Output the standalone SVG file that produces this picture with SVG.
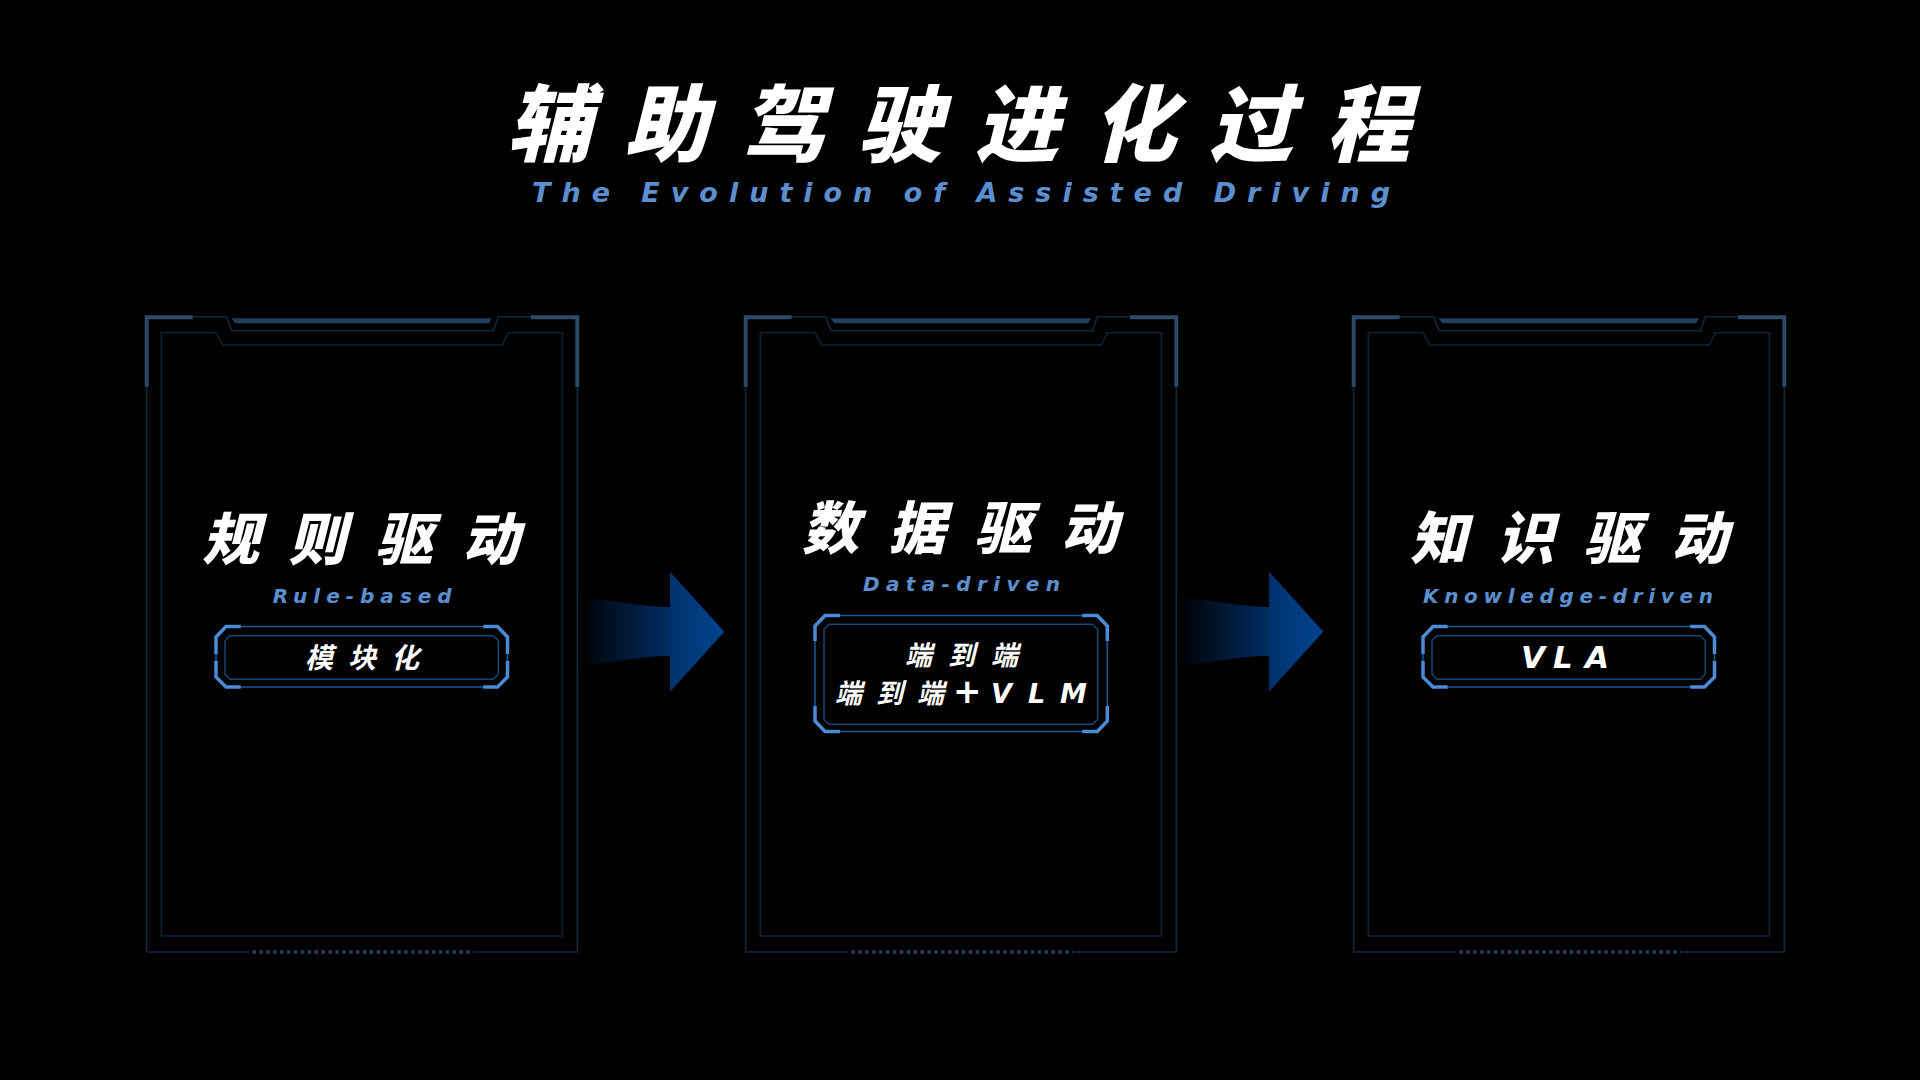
<svg xmlns="http://www.w3.org/2000/svg" xmlns:xlink="http://www.w3.org/1999/xlink" width="1920" height="1080" viewBox="0 0 1920 1080">
<style>
.cjk{font-family:"Noto Sans CJK SC","Noto Sans",sans-serif;font-weight:900;font-style:italic;fill:#ffffff}
.box{font-family:"DejaVu Sans","Noto Sans CJK SC",sans-serif;font-weight:700;font-style:italic;fill:#ffffff}
.en{font-family:"DejaVu Sans","Liberation Sans",sans-serif;font-weight:700;font-style:italic;fill:#5b8fd0}
.thin{fill:none;stroke:#0e283e;stroke-width:1.6}
.inner{fill:none;stroke:#0b2235;stroke-width:1.6}
.thick{fill:none;stroke:#2b4969;stroke-width:4}
.bar{fill:#233f5e}
.dots{fill:none;stroke:#2a3f58;stroke-width:3.4;stroke-dasharray:3.4 3.5}
.boxthin{fill:none;stroke:#1b5a98;stroke-width:1.6}
.boxinner{fill:none;stroke:#164473;stroke-width:1.5}
.boxbright{fill:none;stroke:#4b8bd6;stroke-width:3.5}
</style>
<defs>
<linearGradient id="arrowGrad" gradientUnits="userSpaceOnUse" x1="578" y1="0" x2="724" y2="0">
<stop offset="0" stop-color="#000000"/>
<stop offset="0.62" stop-color="#002c62"/>
<stop offset="0.64" stop-color="#00336e"/>
<stop offset="1" stop-color="#00438d"/>
</linearGradient>
<g id="frame">
<path class="thin" d="M146.7,386 V952 H249.5 M474.5,952 H577.3 V386"/>
<path class="thin" d="M192,316.7 H226.7 L231.7,330.7 H493.3 L498.3,316.7 H531"/>
<path class="inner" d="M161.3,936 V332.7 H216 L222.7,345 H502.3 L508.3,332.7 H562.3 V936 Z"/>
<path class="thick" d="M192.7,317.3 H146.7 V386.7 M531,317.3 H577.3 V386.7"/>
<polygon class="bar" points="231.7,318.3 491.7,318.3 489.3,323.3 235,323.3"/>
<path class="dots" d="M252.5,952 H474"/>
</g>
<g id="boxSmall">
<path class="boxthin" d="M226,626.5 H497.5 L507.5,637 V677 L497.5,687 H226 L216,677 V637 Z"/>
<path class="boxinner" d="M230,635.7 H493.3 L498.3,640.7 V674.3 L493.3,679.3 H230 L225,674.3 V640.7 Z"/>
<path class="boxbright" d="M240.7,626.5 H226 L216,637 V654 M216,661 V677 L226,687 H240.7 M483.3,626.5 H497.5 L507.5,637 V654 M507.5,661 V677 L497.5,687 H483.3"/>
</g>
<path id="arrow" d="M578,598 C622,600 640,607 670,607 L670,571.7 L724.3,631.7 L670,691.7 L670,656 C640,656 622,662 578,666 Z"/>
</defs>
<rect width="1920" height="1080" fill="#000000"/>
<g id="title">
<text class="cjk" font-size="84" x="507 624 741 858 975 1092 1209 1326" y="155">辅助驾驶进化过程</text>
<text class="en" font-size="27" x="532" y="201.7" textLength="858" lengthAdjust="spacing">The Evolution of Assisted Driving</text>
</g>
<g id="connectors">
<use xlink:href="#arrow" href="#arrow" fill="url(#arrowGrad)"/>
<g transform="translate(599,0)"><use xlink:href="#arrow" href="#arrow" fill="url(#arrowGrad)"/></g>
</g>
<g id="card-rule">
<use xlink:href="#frame" href="#frame"/>
<text class="cjk" font-size="57" x="202 288.7 375.4 462.1" y="560">规则驱动</text>
<text class="en" font-size="20" x="272.7" y="603.3" textLength="179" lengthAdjust="spacing">Rule-based</text>
<use xlink:href="#boxSmall" href="#boxSmall"/>
<text class="box" font-size="28" x="305 348 391" y="668">模块化</text>
</g>
<g id="card-data">
<use xlink:href="#frame" href="#frame" transform="translate(599,0)"/>
<text class="cjk" font-size="57" x="802 888.2 974.4 1060.6" y="549">数据驱动</text>
<text class="en" font-size="20" x="863" y="591" textLength="197" lengthAdjust="spacing">Data-driven</text>
<path class="boxthin" d="M825,615.5 H1097.3 L1107.3,626 V721 L1097.3,731.5 H825 L815,721 V626 Z"/>
<path class="boxinner" d="M829,624.3 H1092.7 L1097.7,629.3 V719.3 L1092.7,724.3 H829 L824,719.3 V629.3 Z"/>
<path class="boxbright" d="M840,615.5 H825 L815,626 V641 M815,706 V721 L825,731.5 H840 M1082.3,615.5 H1097.3 L1107.3,626 V641 M1107.3,706 V721 L1097.3,731.5 H1082.3"/>
<text class="box" font-size="27" x="905 948 991" y="665">端到端</text>
<text class="box" font-size="27" x="835 876 917 953 991 1028 1060" y="703">端到端<tspan font-size="34">+</tspan>VLM</text>
</g>
<g id="card-knowledge">
<use xlink:href="#frame" href="#frame" transform="translate(1207,0)"/>
<text class="cjk" font-size="57" x="1410 1496.8 1583.6 1670.4" y="559">知识驱动</text>
<text class="en" font-size="20" x="1423" y="603" textLength="290" lengthAdjust="spacing">Knowledge-driven</text>
<use xlink:href="#boxSmall" href="#boxSmall" transform="translate(1207,0)"/>
<text class="box" font-size="31" x="1521 1553 1585" y="668">VLA</text>
</g>
</svg>
